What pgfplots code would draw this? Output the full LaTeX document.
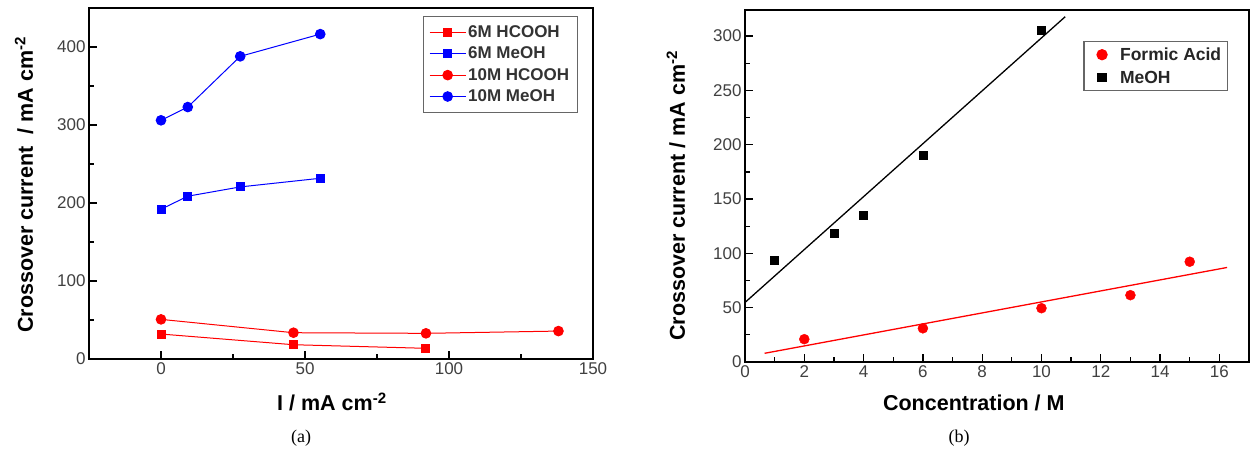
\documentclass[border=0pt]{standalone}
\usepackage{fontspec}
\setmainfont{Liberation Sans}
\newfontfamily\capfont{Liberation Serif}
\usepackage{pgfplots}
\pgfplotsset{compat=1.18}
\begin{document}
\begin{tikzpicture}
\useasboundingbox (0pt,0pt) rectangle (1257pt,449pt);
\pgfplotsset{
  common/.style={
    scale only axis,
    axis line style={line width=1.8pt},
    tick align=inside,
    tick pos=left,
    major tick length=8pt, minor tick length=5pt,
    every tick/.style={line width=1.3pt, black},
    tick label style={font=\fontsize{17}{17}\selectfont, text=black!75},
    label style={font=\fontsize{21.5}{21.5}\selectfont\bfseries},
    /pgf/number format/assume math mode=true,
    legend cell align=left,
  },
}
% ---------------- panel (a)
\begin{axis}[common,
  at={(89pt,90pt)}, anchor=south west, width=504pt, height=351pt,
  xmin=-25, xmax=150, ymin=0, ymax=450,
  xtick={0,50,100,150}, minor xtick={25,75,125},
  ytick={0,100,200,300,400}, minor ytick={50,150,250,350},
  xlabel={I / mA cm\textsuperscript{-2}},
  ylabel={Crossover current \ / mA cm\textsuperscript{-2}},
  xlabel style={at={(axis description cs:0.482,-0.1225)}, anchor=center},
  ylabel style={at={(axis description cs:-0.129,0.496)}, anchor=center},
  legend style={at={(0.970,0.977)}, anchor=north east, draw=black!60,
    line width=1.3pt, inner xsep=6pt, inner ysep=7pt, row sep=4pt,
    font=\fontsize{17}{17}\selectfont\bfseries, text=black!80},
  legend image code/.code={\draw[mark repeat=2,mark phase=2] plot coordinates {(0pt,0pt) (18pt,0pt) (36pt,0pt)};},
]
\addplot[red, line width=1pt, mark=square*, mark size=4pt, mark options={solid}]
  coordinates {(0,32) (46,18.3) (92,13.7)};
\addlegendentry{6M HCOOH}
\addplot[blue, line width=1pt, mark=square*, mark size=4pt]
  coordinates {(0,192) (9.3,208.7) (27.5,220.6) (55.3,231.7)};
\addlegendentry{6M MeOH}
\addplot[red, line width=1pt, mark=*, mark size=4.8pt]
  coordinates {(0,50.8) (46,33.7) (92,32.9) (138,35.8)};
\addlegendentry{10M HCOOH}
\addplot[blue, line width=1pt, mark=*, mark size=4.8pt]
  coordinates {(0,306) (9.3,323) (27.5,388) (55.3,416.5)};
\addlegendentry{10M MeOH}
\end{axis}
% ---------------- panel (b)
\begin{axis}[common,
  at={(745pt,87pt)}, anchor=south west, width=504pt, height=352pt,
  xmin=0, xmax=17, ymin=0, ymax=324,
  xtick={0,2,...,16}, minor xtick={1,3,...,15},
  ytick={0,50,...,300}, minor ytick={25,75,...,275},
  xlabel={Concentration / M},
  ylabel={Crossover current / mA cm\textsuperscript{-2}},
  xlabel style={at={(axis description cs:0.454,-0.117)}, anchor=center},
  ylabel style={at={(axis description cs:-0.137,0.472)}, anchor=center},
  legend style={at={(0.958,0.912)}, anchor=north east, draw=black!60,
    line width=1.3pt, inner xsep=4pt, inner ysep=4pt, row sep=5pt,
    font=\fontsize{17.5}{17.5}\selectfont\bfseries, text=black!85},
  legend image code/.code={\path[draw=none,fill=none] (2pt,0pt) -- (32pt,0pt); \draw plot coordinates {(16pt,0pt)};},
]
\addplot[black, line width=1.3pt, forget plot] coordinates {(0,54.8) (10.8,317.8)};
\addplot[red, line width=1.3pt, forget plot] coordinates {(0.66,8) (16.26,87)};
\addplot[only marks, red, mark=*, mark size=5pt]
  coordinates {(2,21) (6,31) (10,49.5) (13,61.5) (15,92.3)};
\addlegendentry{Formic Acid}
\addplot[only marks, black, mark=square*, mark size=4pt]
  coordinates {(1,94) (3,118.4) (4,135.4) (6,190.8) (10,305.5)};
\addlegendentry{MeOH}
\end{axis}
\node[font=\capfont\fontsize{18}{18}\selectfont] at (301pt,11pt) {(a)};
\node[font=\capfont\fontsize{18}{18}\selectfont] at (959pt,11pt) {(b)};
\end{tikzpicture}
\end{document}
